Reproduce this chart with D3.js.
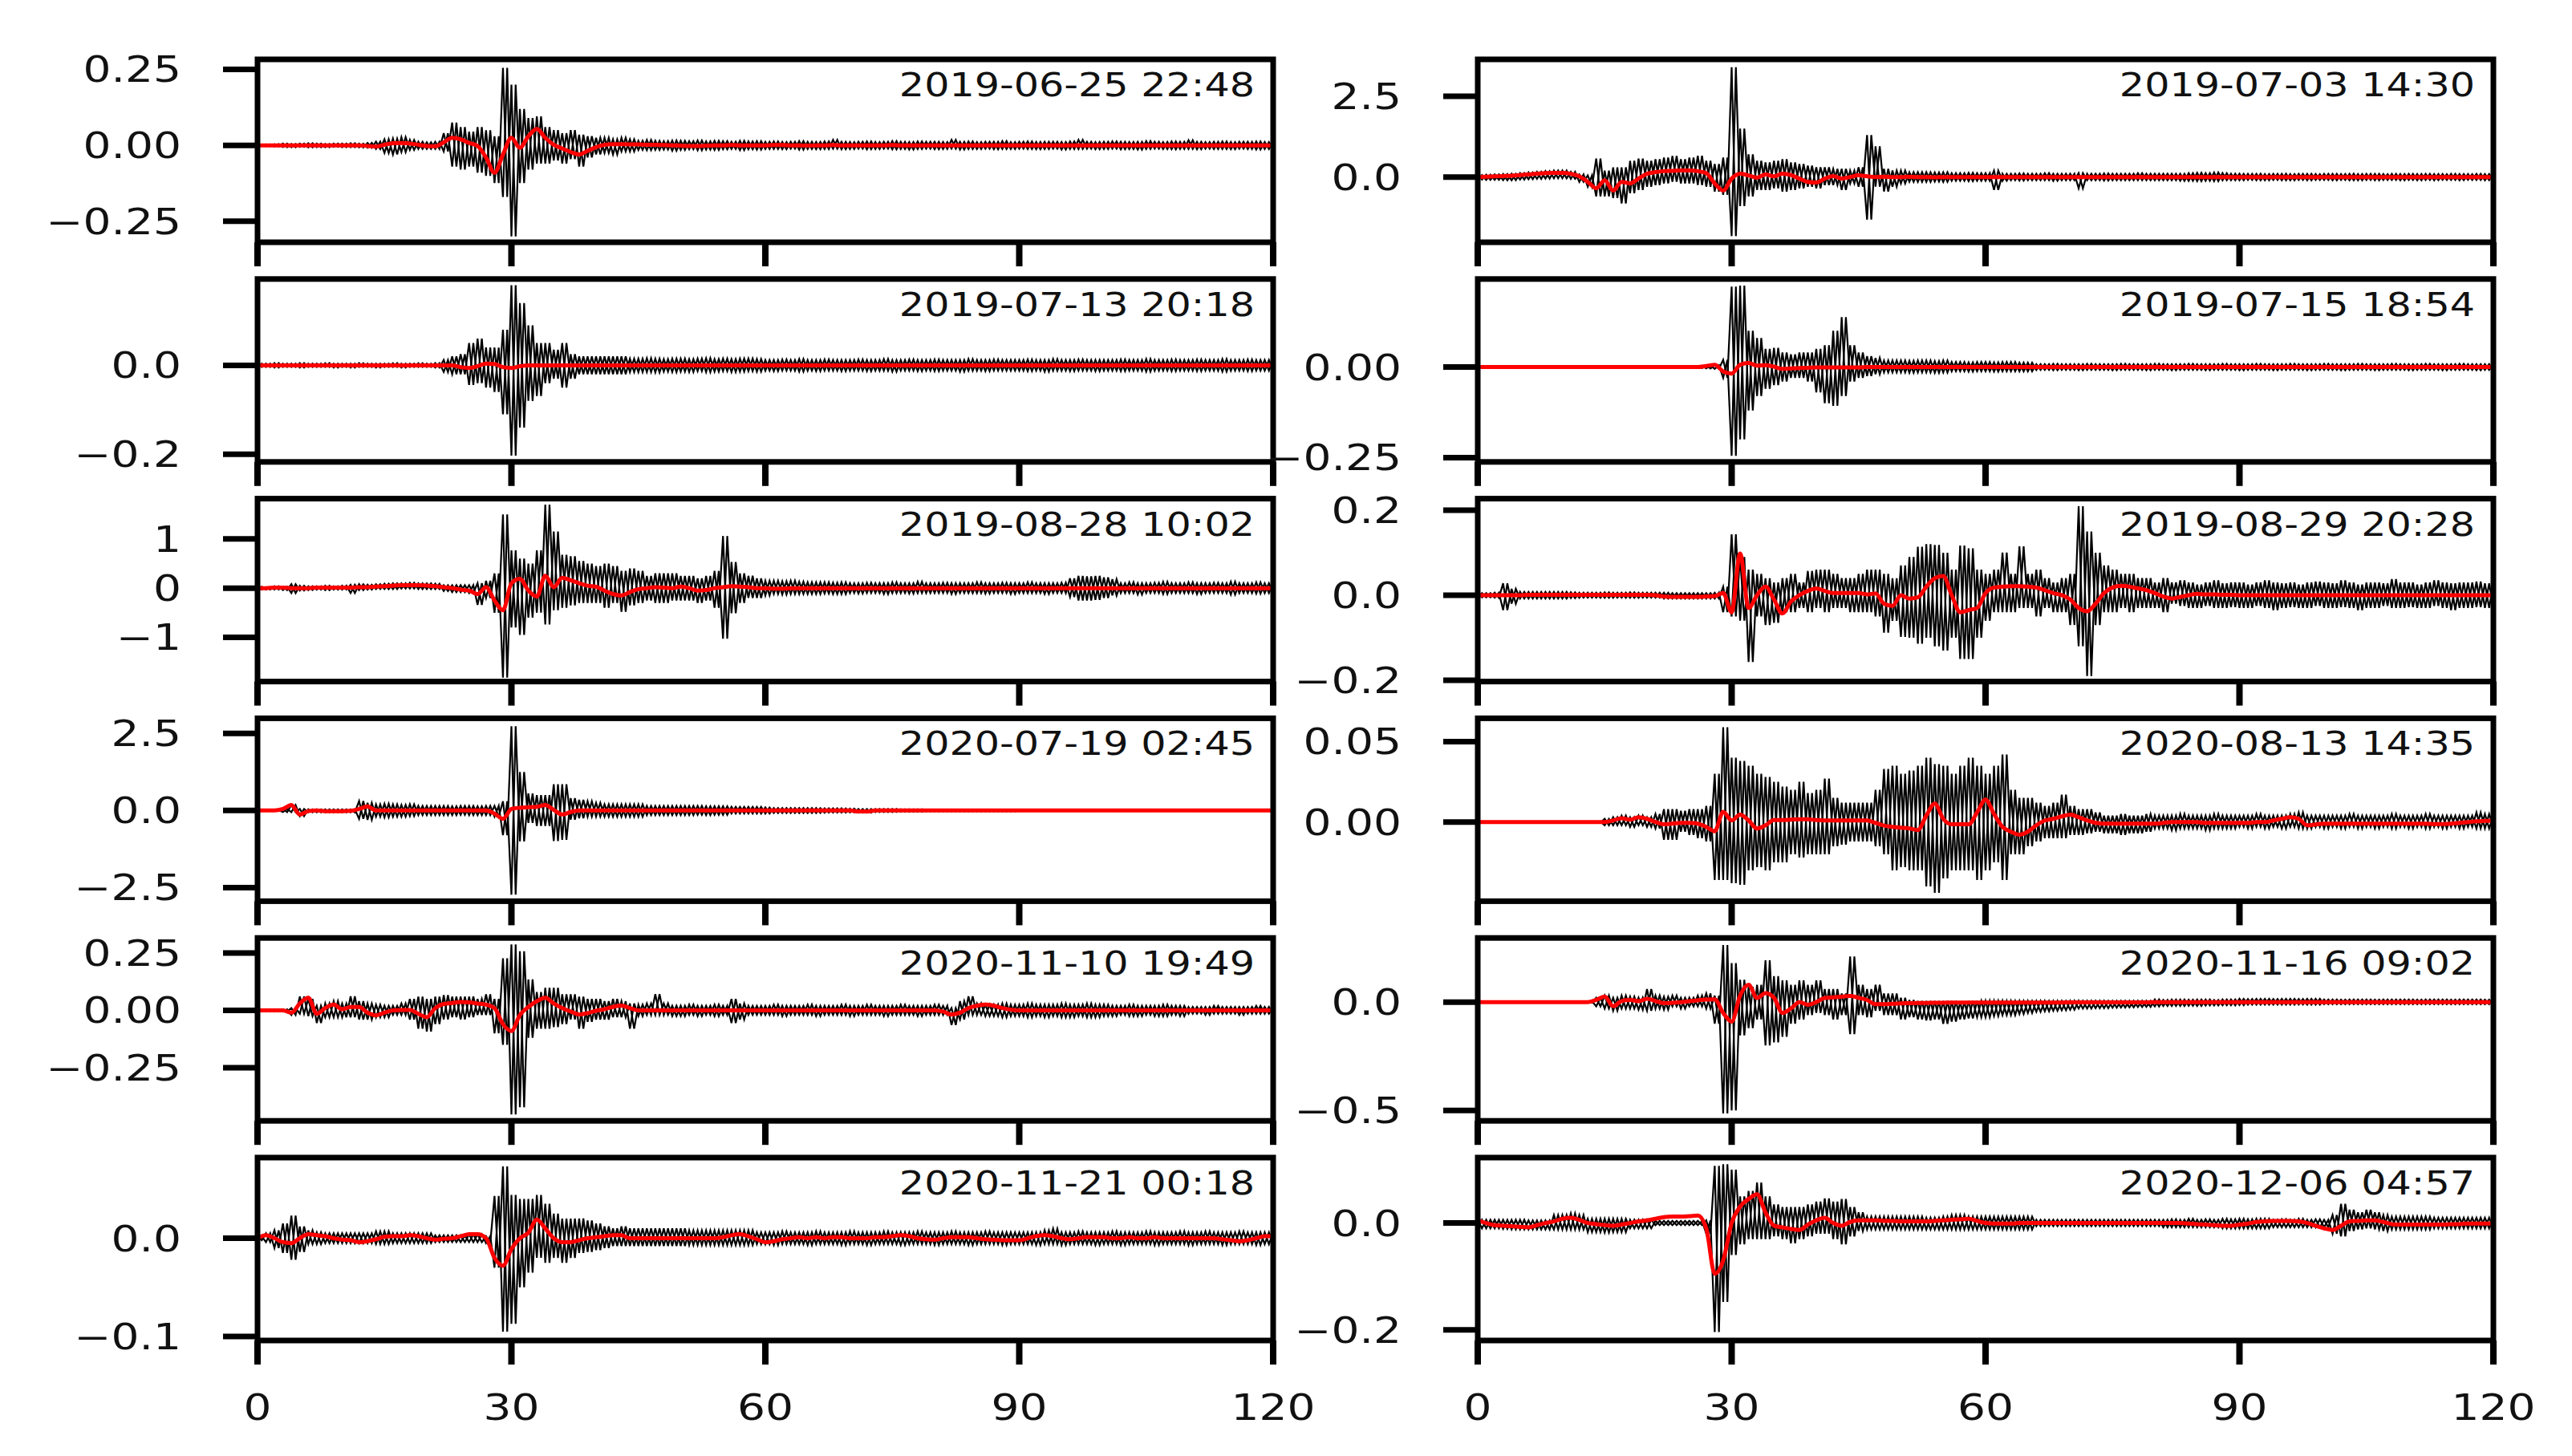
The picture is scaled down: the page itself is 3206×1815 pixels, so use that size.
<!DOCTYPE html>
<html>
<head>
<meta charset="utf-8">
<script src="https://cdn.jsdelivr.net/npm/d3@7"></script>
<style>
  body { margin: 0; background: #fff; }
  svg { display: block; }
  text { font-family: "DejaVu Sans", sans-serif; fill: #111; }
</style>
</head>
<body>
<svg id="chart" width="3206" height="1815"></svg>
<script>
// time axis in seconds, one envelope sample per second
const seconds = d3.range(0, 121);
const xTicks = [0, 30, 60, 90, 120];

const dates = [
  "2019-06-25 22:48", "2019-07-03 14:30",
  "2019-07-13 20:18", "2019-07-15 18:54",
  "2019-08-28 10:02", "2019-08-29 20:28",
  "2020-07-19 02:45", "2020-08-13 14:35",
  "2020-11-10 19:49", "2020-11-16 09:02",
  "2020-11-21 00:18", "2020-12-06 04:57"
];

const yLimits = [
  [-0.319, 0.283], [-2.02, 3.64],
  [-0.217, 0.194], [-0.262, 0.243],
  [-1.9, 1.82], [-0.203, 0.227],
  [-2.94, 2.99], [-0.0492, 0.0645],
  [-0.482, 0.316], [-0.548, 0.296],
  [-0.104, 0.082], [-0.22, 0.1226]
];

const yTickValues = [
  [-0.25, 0, 0.25], [0, 2.5],
  [-0.2, 0], [-0.25, 0],
  [-1, 0, 1], [-0.2, 0, 0.2],
  [-2.5, 0, 2.5], [0, 0.05],
  [-0.25, 0, 0.25], [-0.5, 0],
  [-0.1, 0], [-0.2, 0]
];
const yTickFormats = [".2f", ".1f", ".1f", ".2f", "d", ".1f", ".1f", ".2f", ".2f", ".1f", ".1f", ".1f"];

// ---- 2019-06-25 22:48 ----
const hi1 = [
.002,.003,.004,.006,.005,.006,.007,.006,.005,.006,
.006,.007,.006,.008,.012,.02,.022,.027,.018,.012,
.01,.012,.04,.075,.06,.045,.06,.05,.03,.255,
.2,.12,.09,.095,.06,.05,.04,.05,.035,.03,
.025,.025,.02,.025,.02,.015,.018,.015,.014,.016,
.015,.014,.016,.013,.015,.014,.012,.015,.013,.014,
.012,.013,.011,.012,.014,.012,.011,.013,.018,.012,
.011,.012,.013,.011,.012,.014,.012,.011,.013,.012,
.012,.011,.018,.012,.013,.011,.012,.012,.014,.011,
.012,.013,.011,.012,.012,.011,.013,.018,.012,.011,
.012,.013,.012,.011,.012,.014,.012,.011,.013,.012,
.017,.012,.011,.012,.013,.011,.012,.012,.013,.011,.012];
const lo1 = [
-.002,-.003,-.004,-.006,-.006,-.005,-.007,-.006,-.006,-.005,
-.006,-.006,-.007,-.008,-.012,-.025,-.03,-.022,-.015,-.012,
-.012,-.012,-.02,-.07,-.08,-.07,-.09,-.1,-.124,-.17,
-.3,-.124,-.08,-.06,-.06,-.05,-.06,-.045,-.07,-.04,
-.03,-.025,-.03,-.02,-.02,-.015,-.016,-.015,-.014,-.018,
-.015,-.013,-.016,-.014,-.015,-.013,-.012,-.016,-.013,-.014,
-.012,-.012,-.013,-.011,-.014,-.012,-.013,-.012,-.011,-.013,
-.012,-.011,-.013,-.012,-.011,-.013,-.012,-.014,-.012,-.011,
-.013,-.012,-.011,-.014,-.012,-.012,-.011,-.013,-.012,-.012,
-.011,-.012,-.013,-.012,-.011,-.014,-.012,-.012,-.011,-.013,
-.012,-.011,-.013,-.012,-.014,-.012,-.011,-.012,-.013,-.012,
-.012,-.013,-.011,-.012,-.012,-.013,-.011,-.012,-.014,-.012,-.011];
const red1 = [
0,0,0,0,0,0,0,0,0,0,
0,0,0,-0.002,-0.004,0.002,0.007,0.008,0.006,0.002,
-0.002,-0.003,0.01,0.025,0.02,0.008,-0.002,-0.04,-0.09,-0.03,
0.025,-0.008,0.03,0.054,0.025,0.002,-0.01,-0.022,-0.03,-0.018,
-0.006,0.002,0.004,0.004,0.003,0.003,0.002,0.002,0.001,0,
-0.001,-0.002,-0.002,-0.001,0,0,0.001,0,0,0,
0,0.001,0.001,0,0,-0.001,0,0,0.001,0,
0,0,0,0,0,0.001,0,0,0,0,
0,0,0,0,0,0,0,0,0,0,
0,0,0,0,0,0,0,0,0,0,
0,0,0,0,0,0,0,0,0,0,
0,0,0,0,0,0,0,0,0,0,0];

// ---- 2019-07-03 14:30 ----
const hi2 = [
.06,.07,.08,.09,.1,.12,.14,.16,.18,.2,
.2,.16,.08,.05,.57,.2,.3,.3,.5,.57,
.5,.55,.6,.65,.55,.6,.66,.5,.4,.6,
3.4,1.5,.7,.5,.45,.5,.55,.45,.4,.35,
.3,.3,.25,.25,.2,.3,1.3,.95,.25,.2,
.2,.15,.15,.15,.14,.15,.12,.12,.13,.12,
.12,.2,.1,.1,.11,.1,.1,.12,.1,.1,
.1,.12,.1,.1,.11,.1,.1,.1,.12,.1,
.1,.1,.1,.1,.12,.13,.12,.14,.12,.1,
.1,.1,.1,.09,.1,.1,.09,.1,.1,.09,
.1,.1,.09,.1,.09,.1,.1,.09,.1,.09,
.1,.09,.1,.09,.09,.1,.09,.09,.1,.09,.09];
const lo2 = [
-.08,-.09,-.09,-.1,-.1,-.08,-.07,-.06,-.05,-.04,
-.04,-.06,-.15,-.3,-.6,-.6,-.65,-.82,-.5,-.4,
-.3,-.25,-.2,-.15,-.2,-.2,-.25,-.3,-.45,-.55,
-1.83,-.9,-.6,-.4,-.4,-.35,-.45,-.4,-.35,-.3,
-.35,-.25,-.25,-.4,-.2,-.3,-1.32,-.3,-.45,-.3,
-.2,-.15,-.15,-.15,-.14,-.15,-.12,-.12,-.13,-.12,
-.12,-.4,-.12,-.1,-.11,-.1,-.1,-.1,-.12,-.1,
-.1,-.35,-.1,-.1,-.11,-.1,-.1,-.1,-.1,-.1,
-.1,-.1,-.1,-.12,-.12,-.13,-.12,-.13,-.1,-.1,
-.1,-.09,-.1,-.1,-.09,-.1,-.1,-.09,-.1,-.09,
-.09,-.1,-.09,-.1,-.1,-.09,-.1,-.09,-.09,-.1,
-.09,-.1,-.09,-.1,-.09,-.09,-.1,-.09,-.09,-.1,-.09];
const red2 = [
0,0.01,0.02,0.03,0.04,0.06,0.08,0.1,0.12,0.13,
0.13,0.1,0.02,-0.15,-0.35,-0.1,-0.42,-0.15,-0.2,-0.05,
0.1,0.15,0.18,0.19,0.2,0.2,0.18,0.12,-0.2,-0.42,
-0.05,0.1,0.05,-0.02,0.08,0.02,0.1,0.06,-0.05,-0.15,
-0.17,-0.05,0.03,-0.05,0,0.05,0.02,0,0.01,0,
0,0.01,0,0,-0.01,0,0,0,0,0,
0,0,0,0,0,0,0,0,0,0,
0,0,0,0,0,0,0,0,0,0,
0,0,0,0,0,0,0,0,0,0,
0,0,0,0,0,0,0,0,0,0,
0,0,0,0,0,0,0,0,0,0,
0,0,0,0,0,0,0,0,0,0,0];

// ---- 2019-07-13 20:18 ----
const hi3 = [
.004,.004,.005,.004,.004,.005,.004,.004,.005,.004,
.004,.004,.005,.004,.004,.004,.005,.004,.004,.005,
.004,.005,.012,.02,.025,.05,.06,.04,.04,.08,
.18,.14,.09,.05,.05,.035,.05,.025,.02,.02,
.02,.02,.02,.02,.015,.015,.016,.015,.014,.015,
.015,.014,.015,.016,.014,.015,.014,.015,.015,.014,
.012,.012,.013,.012,.014,.012,.012,.013,.012,.012,
.012,.013,.012,.012,.014,.012,.012,.013,.012,.012,
.013,.012,.012,.012,.014,.012,.012,.013,.012,.012,
.012,.013,.012,.012,.014,.012,.012,.013,.012,.012,
.012,.012,.013,.012,.012,.014,.012,.012,.013,.012,
.012,.013,.012,.012,.014,.012,.012,.013,.012,.012,.012];
const lo3 = [
-.004,-.004,-.005,-.004,-.004,-.005,-.004,-.004,-.004,-.005,
-.004,-.005,-.004,-.004,-.005,-.004,-.004,-.005,-.004,-.004,
-.004,-.005,-.015,-.02,-.02,-.044,-.04,-.05,-.06,-.11,
-.203,-.14,-.08,-.069,-.04,-.03,-.05,-.03,-.02,-.02,
-.02,-.02,-.02,-.02,-.015,-.015,-.015,-.016,-.014,-.015,
-.014,-.015,-.013,-.015,-.014,-.013,-.015,-.014,-.013,-.014,
-.012,-.013,-.012,-.012,-.014,-.012,-.013,-.012,-.012,-.013,
-.012,-.012,-.013,-.012,-.012,-.014,-.012,-.012,-.013,-.012,
-.013,-.012,-.012,-.014,-.012,-.012,-.013,-.012,-.012,-.012,
-.012,-.013,-.012,-.014,-.012,-.012,-.013,-.012,-.012,-.013,
-.012,-.012,-.013,-.012,-.012,-.014,-.012,-.012,-.013,-.012,
-.012,-.013,-.012,-.012,-.014,-.012,-.012,-.013,-.012,-.012,-.012];
const red3 = [
0,0,0,0,0,0,0,0,0,0,
0,0,0,0,0,0,0,0,0,0,
0,0,0,0,-0.004,-0.006,-0.002,0.004,0.003,-0.004,
-0.006,-0.002,0,0,0,0,0,0,0,0,
0,0,0,0,0,0,0,0,0,0,
0,0,0,0,0,0,0,0,0,0,
0,0,0,0,0,0,0,0,0,0,
0,0,0,0,0,0,0,0,0,0,
0,0,0,0,0,0,0,0,0,0,
0,0,0,0,0,0,0,0,0,0,
0,0,0,0,0,0,0,0,0,0,
0,0,0,0,0,0,0,0,0,0,0];

// ---- 2019-07-15 18:54 ----
const hi4 = [
.003,.003,.003,.003,.003,.003,.003,.003,.003,.003,
.003,.003,.003,.003,.003,.003,.003,.003,.003,.003,
.003,.003,.003,.003,.003,.003,.003,.004,.005,.02,
.222,.225,.1,.08,.05,.053,.04,.035,.04,.04,
.05,.06,.1,.138,.06,.04,.03,.025,.018,.018,
.018,.017,.018,.018,.016,.018,.014,.014,.013,.014,
.014,.013,.014,.014,.012,.012,.008,.008,.009,.008,
.008,.008,.009,.008,.008,.008,.009,.008,.008,.008,
.009,.008,.008,.008,.009,.008,.008,.008,.009,.008,
.008,.008,.009,.008,.008,.008,.009,.008,.008,.008,
.009,.008,.008,.008,.009,.008,.008,.008,.009,.008,
.008,.008,.009,.008,.008,.008,.009,.008,.008,.008,.008];
const lo4 = [
-.003,-.003,-.003,-.003,-.003,-.003,-.003,-.003,-.003,-.003,
-.003,-.003,-.003,-.003,-.003,-.003,-.003,-.003,-.003,-.003,
-.003,-.003,-.003,-.003,-.003,-.003,-.003,-.004,-.005,-.03,
-.245,-.2,-.12,-.08,-.06,-.05,-.04,-.03,-.03,-.04,
-.07,-.1,-.107,-.08,-.04,-.03,-.025,-.02,-.015,-.015,
-.015,-.016,-.015,-.015,-.016,-.015,-.012,-.012,-.013,-.012,
-.012,-.013,-.012,-.012,-.012,-.012,-.008,-.008,-.009,-.008,
-.008,-.009,-.008,-.008,-.008,-.009,-.008,-.008,-.008,-.009,
-.008,-.008,-.009,-.008,-.008,-.008,-.009,-.008,-.008,-.008,
-.009,-.008,-.008,-.008,-.009,-.008,-.008,-.008,-.009,-.008,
-.008,-.008,-.009,-.008,-.008,-.008,-.009,-.008,-.008,-.008,
-.009,-.008,-.008,-.008,-.009,-.008,-.008,-.008,-.009,-.008,-.008];
const red4 = [
0,0,0,0,0,0,0,0,0,0,
0,0,0,0,0,0,0,0,0,0,
0,0,0,0,0,0,0,0.003,0.006,-0.012,
-0.018,0.006,0.011,0.004,0.005,0.001,-0.005,-0.004,-0.003,-0.002,
-0.001,-0.001,-0.001,-0.001,-0.001,-0.001,0,0,0,0,
0,0,0,0,0,0,0,0,0,0,
0,0,0,0,0,0,0,0,0,0,
0,0,0,0,0,0,0,0,0,0,
0,0,0,0,0,0,0,0,0,0,
0,0,0,0,0,0,0,0,0,0,
0,0,0,0,0,0,0,0,0,0,
0,0,0,0,0,0,0,0,0,0,0];

// ---- 2019-08-28 10:02 ----
const hi5 = [
.03,.02,.04,.03,.08,.05,.04,.04,.05,.04,
.05,.07,.08,.07,.08,.09,.1,.1,.11,.1,
.1,.09,.06,.06,.06,.06,.1,.15,.3,1.5,
.77,.6,.5,.77,1.7,1.15,.68,.65,.55,.5,
.45,.5,.45,.35,.4,.35,.25,.3,.3,.3,
.25,.25,.2,.25,.35,1.06,.53,.3,.25,.2,
.15,.15,.14,.15,.13,.12,.12,.12,.11,.12,
.1,.1,.11,.1,.1,.12,.1,.1,.13,.1,
.1,.11,.1,.1,.1,.12,.1,.1,.11,.1,
.1,.12,.1,.1,.1,.11,.2,.25,.24,.25,
.22,.18,.1,.12,.1,.1,.11,.13,.1,.1,
.12,.1,.1,.11,.1,.13,.1,.1,.12,.1,.1];
const lo5 = [
-.03,-.03,-.03,-.04,-.1,-.05,-.04,-.03,-.04,-.03,
-.03,-.1,-.04,-.03,-.02,-.02,-.02,-.01,-.01,-.02,
-.02,-.02,-.06,-.08,-.08,-.1,-.34,-.2,-.5,-1.82,
-.8,-.95,-.6,-.5,-.74,-.45,-.4,-.35,-.3,-.3,
-.3,-.4,-.3,-.48,-.35,-.3,-.25,-.3,-.3,-.25,
-.25,-.25,-.3,-.25,-.4,-1.03,-.51,-.3,-.2,-.2,
-.15,-.12,-.13,-.12,-.12,-.12,-.12,-.11,-.12,-.12,
-.1,-.11,-.1,-.1,-.12,-.1,-.1,-.11,-.1,-.1,
-.1,-.1,-.12,-.1,-.1,-.1,-.11,-.1,-.1,-.12,
-.1,-.1,-.1,-.12,-.1,-.1,-.18,-.25,-.25,-.24,
-.2,-.15,-.1,-.1,-.13,-.1,-.1,-.12,-.1,-.1,
-.1,-.12,-.1,-.1,-.1,-.13,-.1,-.1,-.11,-.1,-.1];
const red5 = [
0,0,0.01,0.01,0,0,0,0.01,0.01,0.01,
0.01,0.01,0.02,0.02,0.03,0.04,0.05,0.06,0.06,0.06,
0.05,0.04,0.02,0,-0.03,-0.05,-0.12,0.02,-0.25,-0.45,
0.1,0.19,-0.05,-0.17,0.25,0.02,0.21,0.16,0.1,0.05,
0.03,-0.05,-0.12,-0.15,-0.08,-0.02,0,0.02,0.01,0,
0.03,0,-0.05,-0.04,0,0.02,0.04,0.03,0.02,0,
0,-0.01,-0.01,0,0,0,0,0,0,0,
0,0,0,0,0,0,0,0,0,0,
0,0,0,0,0,0,0,0,0,0,
0,0,0,0,0,0,0,0,0,0,
0,0,0,0,0,0,0,0,0,0,
0,0,0,0,0,0,0,0,0,0,0];

// ---- 2019-08-29 20:28 ----
const hi6 = [
.005,.005,.006,.028,.015,.008,.008,.008,.008,.008,
.008,.007,.006,.006,.006,.007,.006,.006,.007,.006,
.006,.006,.006,.005,.005,.005,.005,.005,.006,.02,
.143,.09,.06,.05,.04,.03,.04,.05,.03,.057,
.06,.06,.05,.04,.04,.05,.06,.06,.05,.04,
.07,.09,.114,.12,.118,.1,.06,.117,.11,.06,
.05,.06,.1,.05,.115,.05,.06,.04,.03,.04,
.05,.209,.15,.1,.07,.06,.05,.05,.04,.04,
.03,.04,.03,.035,.03,.025,.03,.035,.028,.03,
.03,.025,.03,.035,.03,.028,.03,.025,.03,.032,
.03,.028,.035,.03,.025,.03,.03,.028,.038,.03,
.03,.025,.03,.035,.03,.028,.03,.03,.032,.028,.03];
const lo6 = [
-.005,-.005,-.006,-.035,-.02,-.008,-.008,-.008,-.008,-.008,
-.008,-.007,-.006,-.006,-.006,-.006,-.006,-.006,-.006,-.006,
-.006,-.006,-.008,-.008,-.008,-.008,-.008,-.008,-.008,-.04,
-.05,-.06,-.157,-.05,-.07,-.065,-.04,-.04,-.03,-.04,
-.03,-.04,-.03,-.03,-.04,-.04,-.04,-.05,-.088,-.06,
-.098,-.1,-.114,-.1,-.12,-.13,-.1,-.15,-.15,-.1,
-.06,-.04,-.04,-.04,-.03,-.03,-.05,-.03,-.04,-.04,
-.07,-.12,-.19,-.07,-.04,-.04,-.03,-.04,-.03,-.03,
-.03,-.04,-.02,-.025,-.03,-.03,-.025,-.03,-.03,-.028,
-.03,-.03,-.025,-.03,-.035,-.03,-.028,-.03,-.03,-.025,
-.03,-.03,-.028,-.03,-.035,-.03,-.03,-.025,-.03,-.03,
-.028,-.03,-.03,-.025,-.03,-.035,-.03,-.03,-.028,-.03,-.03];
const red6 = [
0,0,0,0,0,0,0.001,0.001,0.001,0.001,
0.001,0.001,0.001,0.001,0.001,0.001,0.001,0.001,0.001,0.001,
0.001,0,-0.003,-0.004,-0.004,-0.004,-0.004,-0.003,-0.002,0.005,
-0.04,0.098,-0.03,0,0.02,-0.01,-0.043,-0.015,0,0.01,
0.016,0.01,0.005,0.005,0.005,0.005,0.002,0.004,-0.02,-0.025,
0,-0.008,-0.005,0.02,0.04,0.045,0,-0.04,-0.035,-0.03,
0.005,0.018,0.02,0.021,0.021,0.02,0.018,0.012,0.005,0,
-0.01,-0.03,-0.038,-0.02,0.005,0.018,0.022,0.02,0.016,0.012,
0.005,-0.003,-0.008,-0.004,0,0.003,0.002,0.002,0.001,0.001,
0,0,0,0,0,0,0,0,0,0,
0,0,0,0,0,0,0,0,0,0,
0,0,0,0,0,0,0,0,0,0,0];

// ---- 2020-07-19 02:45 ----
const hi7 = [
.01,.01,.01,.05,.18,.05,.04,.04,.04,.04,
.04,.04,.31,.25,.2,.22,.2,.18,.2,.15,
.15,.15,.15,.14,.15,.15,.14,.15,.15,.3,
2.73,1.25,.55,.5,.5,.85,.85,.4,.35,.3,
.25,.2,.2,.2,.2,.2,.15,.15,.15,.15,
.15,.15,.15,.14,.14,.14,.12,.12,.12,.12,
.1,.08,.08,.08,.08,.08,.08,.07,.07,.07,
.06,.05,.05,.05,.05,.05,.04,.04,.04,.03,
.03,.03,.03,.03,.03,.03,.03,.03,.03,.03,
.02,.02,.02,.02,.02,.02,.02,.02,.02,.02,
.02,.02,.02,.02,.02,.02,.02,.02,.02,.02,
.02,.02,.02,.02,.02,.02,.02,.02,.02,.02,.02];
const lo7 = [
-.01,-.01,-.01,-.05,-.05,-.18,-.06,-.06,-.06,-.06,
-.06,-.06,-.27,-.3,-.2,-.22,-.2,-.2,-.18,-.15,
-.15,-.15,-.15,-.15,-.14,-.15,-.15,-.15,-.2,-.8,
-2.73,-1,-.4,-.5,-.5,-.99,-.95,-.3,-.25,-.2,
-.2,-.2,-.2,-.2,-.2,-.2,-.15,-.15,-.15,-.15,
-.15,-.15,-.14,-.15,-.14,-.14,-.1,-.1,-.1,-.1,
-.1,-.08,-.08,-.08,-.08,-.08,-.08,-.07,-.07,-.07,
-.06,-.07,-.07,-.05,-.05,-.05,-.04,-.04,-.04,-.03,
-.03,-.03,-.03,-.03,-.03,-.03,-.03,-.03,-.03,-.03,
-.02,-.02,-.02,-.02,-.02,-.02,-.02,-.02,-.02,-.02,
-.02,-.02,-.02,-.02,-.02,-.02,-.02,-.02,-.02,-.02,
-.02,-.02,-.02,-.02,-.02,-.02,-.02,-.02,-.02,-.02,-.02];
const red7 = [
0,0,0,0.05,0.18,-0.13,-0.02,0,-0.02,-0.02,
-0.02,-0.01,0.05,0.13,0,0,0,0,0,0,
0,0,0,0,0,0,0,0,-0.1,-0.27,
0.05,0.09,0.11,0.12,0.18,0.02,-0.13,-0.05,0,0,
0,0,0,0,0,0,0,0,0,0,
0,0,0,0,0,0,0,0,0,0,
0,0,0,0,0,0,0,0,0,0,
0,-0.03,-0.03,0,0,0,0,0,0,0,
0,0,0,0,0,0,0,0,0,0,
0,0,0,0,0,0,0,0,0,0,
0,0,0,0,0,0,0,0,0,0,
0,0,0,0,0,0,0,0,0,0,0];

// ---- 2020-08-13 14:35 ----
const hi8 = [
.0003,.0003,.0003,.0003,.0003,.0003,.0003,.0003,.0003,.0003,
.0003,.0003,.0003,.0003,.0003,.002,.003,.004,.003,.004,
.003,.005,.008,.008,.007,.008,.008,.01,.03,.059,
.04,.038,.035,.03,.028,.025,.022,.02,.025,.018,
.02,.027,.015,.012,.012,.012,.012,.02,.033,.035,
.03,.032,.035,.04,.036,.035,.03,.035,.04,.035,
.03,.035,.042,.02,.015,.015,.012,.01,.012,.017,
.01,.008,.008,.006,.004,.004,.005,.004,.004,.005,
.004,.004,.004,.005,.004,.004,.004,.005,.004,.004,
.004,.004,.005,.004,.004,.004,.005,.006,.004,.004,
.004,.004,.004,.005,.004,.004,.004,.004,.005,.004,
.004,.004,.005,.004,.004,.004,.004,.004,.006,.005,.004];
const lo8 = [
-.0003,-.0003,-.0003,-.0003,-.0003,-.0003,-.0003,-.0003,-.0003,-.0003,
-.0003,-.0003,-.0003,-.0003,-.0003,-.002,-.002,-.002,-.003,-.002,
-.003,-.004,-.011,-.011,-.006,-.008,-.01,-.012,-.036,-.036,
-.038,-.039,-.03,-.028,-.03,-.025,-.025,-.02,-.022,-.02,
-.02,-.02,-.015,-.014,-.012,-.012,-.012,-.015,-.02,-.03,
-.028,-.03,-.03,-.04,-.044,-.035,-.03,-.03,-.03,-.036,
-.03,-.025,-.036,-.02,-.02,-.015,-.012,-.01,-.01,-.01,
-.008,-.008,-.007,-.006,-.007,-.007,-.008,-.007,-.007,-.006,
-.004,-.004,-.005,-.004,-.004,-.004,-.005,-.004,-.004,-.004,
-.003,-.004,-.003,-.004,-.003,-.004,-.003,-.004,-.004,-.003,
-.004,-.003,-.004,-.003,-.004,-.003,-.004,-.003,-.004,-.003,
-.004,-.003,-.004,-.003,-.004,-.003,-.004,-.003,-.004,-.004,-.003];
const red8 = [
0,0,0,0,0,0,0,0,0,0,
0,0,0,0,0,0,0.001,0.0024,0.0015,0.003,
0.002,0,-0.0014,-0.001,-0.0005,-0.0005,-0.001,-0.003,-0.0057,0.0063,
0.001,0.0046,0.001,-0.004,-0.002,0.0012,0.0012,0.0015,0.0017,0.0017,
0.0012,0.001,0.001,0.001,0.001,0.001,0.001,-0.0005,-0.0022,-0.003,
-0.0035,-0.004,-0.005,0.004,0.0115,0.002,-0.0014,-0.0014,-0.0014,0.006,
0.014,0.005,-0.003,-0.006,-0.0079,-0.006,-0.002,0.001,0.002,0.0035,
0.0046,0.003,0.001,-0.0005,-0.001,-0.001,-0.001,-0.001,-0.001,-0.001,
-0.001,-0.0005,0,0,0,0,-0.0005,-0.0005,-0.0005,-0.0005,
-0.0005,-0.0005,0,0,0.001,0.002,0.003,0.002,-0.002,-0.0015,
-0.001,-0.001,-0.001,-0.001,-0.001,-0.001,-0.001,-0.001,-0.001,-0.001,
-0.001,-0.001,-0.001,-0.0012,-0.0012,-0.001,-0.0005,0,0.0005,0.0007,0.0008];

// ---- 2020-11-10 19:49 ----
const hi9 = [
.005,.005,.005,.005,.01,.06,.05,.02,.03,.04,
.03,.061,.04,.03,.025,.02,.02,.03,.05,.06,
.05,.06,.067,.06,.06,.06,.05,.07,.05,.227,
.288,.258,.135,.08,.098,.098,.07,.07,.06,.05,
.05,.04,.05,.04,.03,.025,.03,.071,.03,.02,
.02,.025,.02,.02,.025,.02,.05,.03,.02,.02,
.02,.025,.02,.02,.02,.025,.02,.02,.02,.025,
.02,.02,.025,.02,.02,.02,.025,.02,.02,.02,
.025,.02,.01,.04,.061,.03,.025,.025,.03,.025,
.025,.03,.025,.025,.025,.03,.025,.025,.03,.025,
.025,.02,.02,.025,.02,.02,.02,.025,.02,.02,
.015,.015,.015,.02,.015,.015,.015,.015,.02,.015,.015];
const lo9 = [
-.005,-.005,-.005,-.005,-.02,-.015,-.025,-.055,-.03,-.03,
-.03,-.03,-.04,-.04,-.03,-.03,-.02,-.02,-.04,-.08,
-.092,-.06,-.04,-.03,-.04,-.03,-.02,-.02,-.1,-.15,
-.454,-.423,-.12,-.08,-.08,-.073,-.06,-.04,-.08,-.05,
-.04,-.04,-.03,-.03,-.08,-.025,-.02,-.02,-.02,-.025,
-.025,-.02,-.025,-.02,-.025,-.02,-.055,-.04,-.02,-.02,
-.02,-.02,-.025,-.02,-.02,-.02,-.025,-.02,-.02,-.02,
-.025,-.02,-.02,-.02,-.025,-.02,-.02,-.02,-.025,-.02,
-.02,-.02,-.064,-.04,-.02,-.02,-.025,-.025,-.03,-.025,
-.025,-.03,-.025,-.03,-.025,-.03,-.03,-.025,-.03,-.03,
-.025,-.025,-.02,-.025,-.025,-.02,-.025,-.025,-.02,-.025,
-.015,-.015,-.02,-.015,-.015,-.015,-.02,-.015,-.015,-.015,-.015];
const red9 = [
0,0,0,0,-0.01,0.03,0.055,-0.015,0.01,0.025,
0.005,0.015,0.015,-0.01,-0.022,-0.01,0,0.002,0.002,-0.015,
-0.03,0.01,0.028,0.032,0.037,0.035,0.03,0.025,0.01,-0.06,
-0.09,-0.02,0.015,0.04,0.055,0.03,0.01,-0.005,-0.018,-0.012,
-0.002,0.005,0.015,0.021,0.01,0,0,0,0,0,
0,0,0,0,0,0,0,0,0,0,
0,0,0,0,0,0,0,0,0,0,
0,0,0,0,0,0,0,0,0,0,
0,-0.005,-0.018,-0.01,0.01,0.02,0.025,0.02,0.01,0.003,
0,0,0,0,0,0,0,0,0,0,
0,0,0,0,0,0,0,0,0,0,
0,0,0,0,0,0,0,0,0,0,0];

// ---- 2020-11-16 09:02 ----
const hi10 = [
.003,.003,.003,.003,.003,.003,.003,.003,.003,.003,
.003,.003,.003,.003,.02,.03,.02,.03,.025,.02,
.06,.03,.025,.03,.02,.02,.03,.04,.03,.263,
.18,.103,.07,.08,.193,.12,.1,.08,.1,.08,
.1,.06,.06,.04,.21,.08,.06,.08,.04,.04,
.02,.01,.005,.005,.005,.005,.005,0,.005,.005,
.005,.005,.005,.005,.005,.005,.005,.005,.005,.005,
.006,.006,.006,.006,.006,.006,.006,.006,.006,.006,
.012,.01,.012,.012,.011,.012,.012,.01,.012,.012,
.015,.014,.015,.015,.014,.015,.015,.014,.015,.015,
.012,.012,.011,.012,.012,.012,.011,.012,.012,.012,
.012,.011,.012,.012,.012,.011,.012,.012,.012,.011,.012];
const lo10 = [
-.003,-.003,-.003,-.003,-.003,-.003,-.003,-.003,-.003,-.003,
-.003,-.003,-.003,-.003,-.02,-.03,-.04,-.03,-.03,-.035,
-.04,-.03,-.035,-.02,-.03,-.02,-.02,-.03,-.1,-.514,
-.5,-.154,-.12,-.08,-.2,-.186,-.16,-.1,-.08,-.06,
-.05,-.06,-.08,-.06,-.148,-.06,-.07,-.04,-.06,-.06,
-.08,-.07,-.08,-.085,-.08,-.1,-.09,-.08,-.075,-.07,
-.07,-.065,-.06,-.06,-.055,-.05,-.045,-.042,-.04,-.038,
-.035,-.03,-.03,-.028,-.028,-.026,-.025,-.024,-.023,-.022,
-.02,-.018,-.018,-.018,-.017,-.018,-.016,-.016,-.015,-.015,
-.014,-.012,-.012,-.012,-.012,-.012,-.012,-.011,-.012,-.012,
-.01,-.01,-.01,-.01,-.01,-.01,-.01,-.01,-.01,-.01,
-.01,-.01,-.01,-.01,-.01,-.01,-.01,-.01,-.01,-.01,-.01];
const red10 = [
0,0,0,0,0,0,0,0,0,0,
0,0,0,0,0.01,0.026,-0.019,0.005,0.01,0.004,
0.015,0.005,-0.005,-0.003,0,0.004,0.008,0.012,0.013,-0.05,
-0.09,0.03,0.08,0.019,0.041,0.02,-0.05,-0.03,0,-0.012,
0,0.019,0.022,0.025,0.028,0.02,0.01,-0.01,-0.01,-0.008,
-0.006,-0.005,-0.004,-0.004,-0.003,-0.003,-0.002,-0.002,-0.002,-0.002,
-0.002,-0.002,-0.002,-0.002,-0.002,-0.002,-0.002,-0.002,-0.002,-0.002,
-0.001,-0.001,-0.001,-0.001,-0.001,-0.001,-0.001,-0.001,-0.001,-0.001,
0,0,0,0,0,0,0,0,0,0,
0,0,0,0,0,0,0,0,0,0,
0,0,0,0,0,0,0,0,0,0,
0,0,0,0,0,0,0,0,0,0,0];

// ---- 2020-11-21 00:18 ----
const hi11 = [
.002,.005,.008,.015,.023,.012,.008,.006,.005,.005,
.005,.005,.005,.005,.007,.007,.005,.005,.005,.005,
.005,.003,.003,.003,.003,.004,.004,.002,.043,.073,
.044,.04,.04,.044,.035,.025,.02,.02,.02,.018,
.015,.012,.01,.012,.01,.01,.01,.01,.01,.01,
.01,.008,.008,.008,.008,.008,.008,.008,.008,.006,
.006,.006,.007,.006,.006,.006,.007,.006,.006,.006,
.007,.006,.006,.006,.007,.006,.006,.006,.007,.006,
.006,.006,.007,.006,.006,.006,.007,.006,.006,.006,
.006,.006,.006,.008,.0096,.006,.006,.007,.006,.006,
.006,.007,.006,.006,.006,.007,.006,.006,.006,.007,
.006,.006,.007,.006,.006,.006,.007,.006,.006,.006,.006];
const lo11 = [
-.002,-.004,-.01,-.015,-.022,-.014,-.006,-.006,-.005,-.005,
-.005,-.005,-.005,-.005,-.006,-.006,-.005,-.005,-.005,-.005,
-.005,-.004,-.004,-.004,-.004,-.004,-.004,-.005,-.03,-.095,
-.087,-.05,-.035,-.02,-.025,-.02,-.025,-.02,-.015,-.014,
-.012,-.01,-.008,-.008,-.008,-.008,-.008,-.008,-.008,-.008,
-.008,-.007,-.007,-.007,-.007,-.007,-.007,-.007,-.007,-.006,
-.006,-.007,-.006,-.006,-.006,-.007,-.006,-.006,-.006,-.007,
-.006,-.006,-.007,-.006,-.006,-.006,-.007,-.006,-.006,-.006,
-.007,-.006,-.006,-.006,-.007,-.006,-.006,-.006,-.007,-.006,
-.006,-.006,-.007,-.006,-.006,-.007,-.006,-.006,-.006,-.007,
-.006,-.006,-.007,-.006,-.006,-.006,-.007,-.006,-.006,-.006,
-.007,-.006,-.006,-.006,-.007,-.006,-.006,-.006,-.007,-.006,-.006];
const red11 = [
0,0.003,0,-0.004,-0.005,0,0.004,0.003,0.002,0,
-0.0014,-0.002,-0.004,-0.003,-0.001,0.0014,0.002,0.002,0.003,0.002,
0,-0.0015,-0.0005,0,0.002,0.004,0.004,0,-0.02,-0.028,
-0.011,0,0.0055,0.019,0.01,0,-0.004,-0.004,-0.002,0,
0.001,0.002,0.003,0.003,0,0,0,0,0,0,
0,0,0,0,0,0.001,0.003,0.004,0.002,-0.001,
-0.004,-0.003,-0.001,0,0.001,0,0.001,0,0.001,0.001,
0,0,0,0.001,0.001,0.002,0.003,0.002,0,-0.001,
-0.0015,0,0.001,0.001,0.001,0,-0.001,-0.0015,-0.002,-0.002,
-0.002,0,0.002,0.003,0.002,0,-0.001,0,0.001,0.001,
0.001,0,0,0.001,0,0,0.001,0,0,0,
0,0,0,0,-0.001,-0.002,-0.003,-0.002,0,0.002,0.002];

// ---- 2020-12-06 04:57 ----
const hi12 = [
.006,.006,.006,.006,.006,.006,.005,.005,.005,.015,
.015,.018,.015,.008,.008,.008,.008,.008,.006,.006,
.006,.004,.004,.004,.004,.004,.004,.005,.107,.11,
.1,.05,.06,.076,.05,.035,.03,.03,.03,.035,
.04,.046,.04,.045,.03,.02,.012,.012,.012,.012,
.012,.012,.012,.01,.01,.012,.015,.015,.012,.012,
.012,.012,.012,.012,.012,.012,.006,.006,.006,.006,
.006,.006,.006,.006,.006,.006,.006,.006,.006,.006,
.006,.006,.007,.006,.008,.006,.007,.006,.008,.007,
.008,.007,.008,.008,.006,.007,.006,.008,.006,.007,
.006,.015,.036,.025,.02,.025,.02,.015,.012,.012,
.012,.012,.012,.01,.01,.01,.01,.01,.01,.01,.01];
const lo12 = [
-.01,-.01,-.01,-.011,-.012,-.012,-.012,-.012,-.012,-.012,
-.012,-.012,-.012,-.017,-.017,-.018,-.017,-.017,-.01,-.01,
-.01,-.004,-.004,-.004,-.004,-.004,-.004,-.02,-.204,-.148,
-.06,-.04,-.03,-.03,-.03,-.025,-.03,-.038,-.03,-.025,
-.02,-.02,-.03,-.04,-.025,-.015,-.012,-.012,-.012,-.012,
-.012,-.012,-.012,-.012,-.012,-.012,-.012,-.012,-.012,-.012,
-.012,-.012,-.012,-.012,-.012,-.012,-.006,-.006,-.006,-.006,
-.006,-.006,-.006,-.006,-.006,-.006,-.006,-.006,-.006,-.006,
-.006,-.008,-.008,-.008,-.008,-.008,-.008,-.008,-.01,-.01,
-.01,-.01,-.01,-.01,-.008,-.008,-.008,-.008,-.008,-.008,
-.008,-.02,-.025,-.015,-.012,-.01,-.012,-.015,-.012,-.012,
-.012,-.012,-.012,-.01,-.01,-.01,-.01,-.01,-.01,-.01,-.01];
const red12 = [
0.005,0,-0.004,-0.005,-0.006,-0.007,-0.008,-0.004,0,0.003,
0.008,0.01,0.006,0,-0.002,-0.004,-0.005,-0.003,0,0.003,
0.005,0.008,0.011,0.012,0.012,0.013,0.014,-0.01,-0.095,-0.07,
0,0.031,0.045,0.054,0.02,-0.005,-0.008,-0.011,-0.013,-0.003,
0.005,0.01,0,-0.005,0.002,0.005,0.005,0.005,0.004,0.004,
0.003,0.003,0.003,0.003,0.004,0.005,0.006,0.007,0.008,0.004,
0,-0.001,-0.001,-0.001,0,0,0,0,0,0,
0,0,0,0,0,0,0,0,0,0,
0,0,0,0,-0.001,-0.002,-0.003,-0.004,-0.005,-0.005,
-0.003,-0.001,0.002,0.003,0.004,0.004,0.004,0.003,0,-0.005,
-0.01,-0.013,-0.005,0.003,0.004,0.005,0.005,0.002,-0.002,-0.003,
-0.003,-0.003,-0.003,-0.003,-0.003,-0.002,-0.002,-0.001,-0.001,-0.001,-0.001];

const blackHi = [hi1, hi2, hi3, hi4, hi5, hi6, hi7, hi8, hi9, hi10, hi11, hi12];
const blackLo = [lo1, lo2, lo3, lo4, lo5, lo6, lo7, lo8, lo9, lo10, lo11, lo12];
const redTrace = [red1, red2, red3, red4, red5, red6, red7, red8, red9, red10, red11, red12];

// ---------------- layout ----------------
const svg = d3.select("#chart");
const colLeft = [321, 1842];
const panelW = 1266, panelH = 228;
const rowTop0 = 74, rowStep = 273.8;
const frameW = 7;
const textStretch = 1.25;

function stretchedText(parent, x, y, str, size, anchor, sx) {
  parent.append("text")
    .attr("transform", `translate(${x},${y}) scale(${sx},1)`)
    .attr("text-anchor", anchor)
    .attr("font-size", size)
    .text(str);
}

dates.forEach(function(label, k) {
  const col = k % 2, row = Math.floor(k / 2);
  const left = colLeft[col], top = rowTop0 + row * rowStep;
  const bottom = top + panelH, right = left + panelW;

  const x = d3.scaleLinear().domain([0, 120]).range([left, right]);
  const y = d3.scaleLinear().domain(yLimits[k]).range([bottom, top]);

  const g = svg.append("g");
  const clipId = "clip" + k;
  g.append("clipPath").attr("id", clipId)
    .append("rect").attr("x", left).attr("y", top).attr("width", panelW).attr("height", panelH);

  const plot = g.append("g").attr("clip-path", `url(#${clipId})`);
  const line = d3.line().x(d => x(d[0])).y(d => y(d[1]));

  // black seismogram drawn from the per-second envelope, in two phases so the
  // oscillation reads as a dense band like the original trace
  [0, 1].forEach(function(phase) {
    const pts = [];
    seconds.forEach(function(t, i) {
      const a = phase ? blackLo[k][i] : blackHi[k][i];
      const b = phase ? blackHi[k][i] : blackLo[k][i];
      pts.push([t, a]);
      pts.push([t + 0.5, b]);
    });
    plot.append("path")
      .attr("d", line(pts))
      .attr("fill", "none")
      .attr("stroke", "#000")
      .attr("stroke-width", 2.2)
      .attr("stroke-linejoin", "miter");
  });

  // red low-passed trace
  const redLine = d3.line().x((d, i) => x(seconds[i])).y(d => y(d)).curve(d3.curveMonotoneX);
  plot.append("path")
    .attr("d", redLine(redTrace[k]))
    .attr("fill", "none")
    .attr("stroke", "#ff0000")
    .attr("stroke-width", 5);

  // frame
  g.append("rect")
    .attr("x", left).attr("y", top).attr("width", panelW).attr("height", panelH)
    .attr("fill", "none").attr("stroke", "#000").attr("stroke-width", frameW);

  // y ticks
  const fmt = d3.format(yTickFormats[k]);
  yTickValues[k].forEach(function(v) {
    g.append("line")
      .attr("x1", left - 43).attr("x2", left)
      .attr("y1", y(v)).attr("y2", y(v))
      .attr("stroke", "#000").attr("stroke-width", 7);
    stretchedText(g, left - 95, y(v) + 16, fmt(v), 44, "end", textStretch);
  });

  // x ticks under every panel, labels only on the bottom row
  xTicks.forEach(function(v) {
    g.append("line")
      .attr("x1", x(v)).attr("x2", x(v))
      .attr("y1", bottom).attr("y2", bottom + 30)
      .attr("stroke", "#000").attr("stroke-width", 8);
    if (row === 5) {
      stretchedText(g, x(v), bottom + 99, String(v), 44, "middle", textStretch);
    }
  });

  // event date
  stretchedText(g, right - 23, top + 46, label, 41, "end", 1.2);
});
</script>
</body>
</html>
